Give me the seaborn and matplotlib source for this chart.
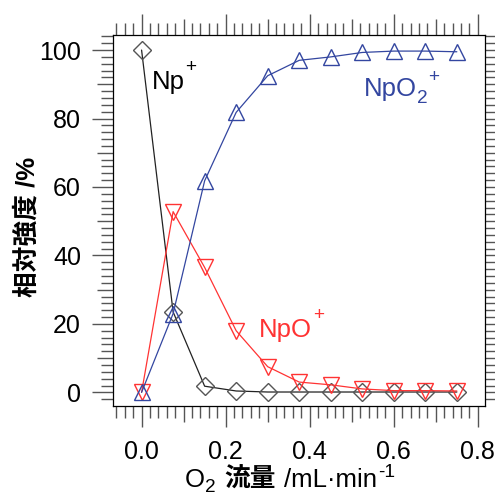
import numpy as np
import pandas as pd
import seaborn as sns
import matplotlib.pyplot as plt
from matplotlib.ticker import MultipleLocator, FuncFormatter

# O2 flow (mL/min) and relative intensities (%)
flow = [0.0, 0.075, 0.15, 0.225, 0.3, 0.375, 0.45, 0.525, 0.6, 0.675, 0.75]
np_plus = [100, 23.5, 1.8, 0.4, 0.1, 0.1, 0.1, 0.1, 0.1, 0.1, 0.1]
npo_plus = [0.0, 52.8, 36.5, 18.0, 7.5, 3.0, 2.2, 1.0, 0.5, 0.5, 0.4]
npo2_plus = [0.0, 23.0, 61.8, 81.8, 92.5, 97.0, 98.0, 99.3, 99.7, 99.7, 99.5]

sns.set_style("ticks")
plt.rcParams['font.family'] = ['Liberation Sans', 'Noto Sans CJK JP', 'DejaVu Sans']
plt.rcParams['text.color'] = 'black'
plt.rcParams['axes.labelcolor'] = 'black'
plt.rcParams['xtick.labelcolor'] = 'black'
plt.rcParams['ytick.labelcolor'] = 'black'

df = pd.DataFrame({'flow': flow, 'Np+': np_plus, 'NpO+': npo_plus, 'NpO2+': npo2_plus})

blue = '#3346a0'
red = '#ff3333'
black = '#222222'

fig = plt.figure(figsize=(4.95, 4.97), dpi=100)
ax = fig.add_axes([113 / 495, 1 - 405.7 / 497, 372 / 495, 370.7 / 497])

sns.lineplot(data=df, x='flow', y='Np+', ax=ax, color=black, lw=0.9,
             marker='D', markersize=9.5, markerfacecolor='none',
             markeredgecolor='#555555', markeredgewidth=1.0)
sns.lineplot(data=df, x='flow', y='NpO+', ax=ax, color=red, lw=0.9,
             marker='v', markersize=11, markerfacecolor='none',
             markeredgecolor=red, markeredgewidth=1.0)
sns.lineplot(data=df, x='flow', y='NpO2+', ax=ax, color=blue, lw=0.9,
             marker='^', markersize=11, markerfacecolor='none',
             markeredgecolor=blue, markeredgewidth=1.0)

ax.set_xlim(-0.068, 0.817)
ax.set_ylim(-3.9, 104.4)

ax.xaxis.set_major_locator(MultipleLocator(0.1))
ax.xaxis.set_minor_locator(MultipleLocator(0.02))
ax.yaxis.set_major_locator(MultipleLocator(10))
ax.yaxis.set_minor_locator(MultipleLocator(2))
ax.xaxis.set_major_formatter(FuncFormatter(
    lambda v, p: f'{v:.1f}' if abs(round(v / 0.2) * 0.2 - v) < 1e-6 else ''))
ax.yaxis.set_major_formatter(FuncFormatter(
    lambda v, p: f'{v:.0f}' if int(round(v)) % 20 == 0 else ''))

ax.tick_params(which='both', direction='out', top=True, right=True,
               labeltop=False, labelright=False, color='#555555', width=1.0)
ax.tick_params(which='major', length=15, labelsize=18)
ax.tick_params(axis='x', which='major', pad=10)
ax.tick_params(axis='y', which='major', pad=8)
ax.tick_params(which='minor', length=8.5)

for s in ax.spines.values():
    s.set_linewidth(0.9)
    s.set_color('black')

ax.set_xlabel('')
ax.set_ylabel('相対強度 /%', fontsize=18.5, fontweight='bold')
ax.yaxis.label.set_verticalalignment('center')
ax.yaxis.set_label_coords(-0.231, 0.482)

# mid-length ticks at the odd tens
fig.canvas.draw()
for t, v in zip(ax.xaxis.get_major_ticks(), ax.xaxis.get_majorticklocs()):
    if abs(round(v / 0.2) * 0.2 - v) > 1e-6:
        t.tick1line.set_markersize(11.5)
        t.tick2line.set_markersize(11.5)
for t, v in zip(ax.yaxis.get_major_ticks(), ax.yaxis.get_majorticklocs()):
    if int(round(v)) % 20 != 0:
        t.tick1line.set_markersize(11.5)
        t.tick2line.set_markersize(11.5)

renderer = fig.canvas.get_renderer()


def rich_text(xy, pieces, coords='data', color='black', size=18.5):
    # pieces: (text, raise in pt, size factor, gap before in pt, extra kwargs)
    dx = 0
    for s, dy, f, gap, kw in pieces:
        dx += gap
        t = ax.annotate(s, xy=xy, xycoords=coords, xytext=(dx, dy),
                        textcoords='offset points', fontsize=size * f,
                        color=color, ha='left', va='baseline',
                        annotation_clip=False, **kw)
        dx += t.get_window_extent(renderer).width * 72 / fig.dpi


sup = 0.74
rich_text((0.0245, 88.7), [('Np', 0, 1, 0, {}), ('+', 12, sup, 0.5, {})])
rich_text((0.528, 86.6), [('NpO', 0, 1, 0, {}), ('2', -5, sup, 0.5, {}),
                          ('+', 10, sup, 0.5, {})], color=blue)
rich_text((0.280, 16.3), [('NpO', 0, 1, 0, {}), ('+', 12, sup, 0.5, {})], color=red)

rich_text((185, 10), [('O', 0, 1, 0, {}), ('2', -3.5, sup, 0.3, {}),
                      ('流量', 0, 1, 6, {'fontweight': 'bold'}),
                      ('/mL·min', 0, 1, 6, {}), ('-1', 7, sup, 0.5, {})],
          coords='figure pixels')

fig.savefig('out.png', dpi=100)
